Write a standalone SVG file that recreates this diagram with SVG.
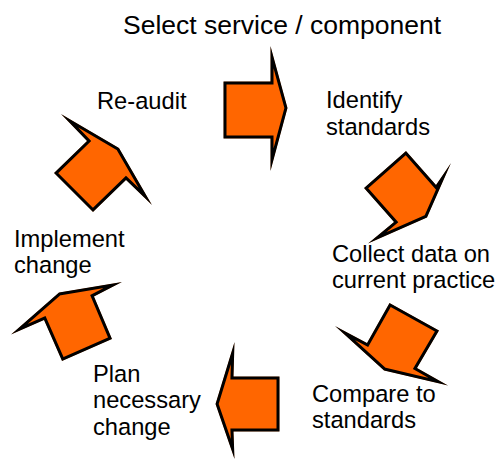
<svg xmlns="http://www.w3.org/2000/svg" xmlns:xlink="http://www.w3.org/1999/xlink" width="499" height="460" viewBox="0 0 499 460">
<style>
.arr{fill:#FF6600;stroke:#000;stroke-width:6;stroke-linejoin:miter;stroke-miterlimit:4}
.t{font-family:"Liberation Sans",Arial,sans-serif;font-size:23.7px;fill:#000}
.title{font-size:26.5px}
</style>
<defs>
<polygon id="a1" points="223.5,81.5 270.5,81.5 270.5,46 287.5,108 270.5,171 270.5,138.5 223.5,138.5"/>
<polygon id="a2" points="406,151 436,185 451,163 427,217.5 368,243.5 394,222 364,188"/>
<polygon id="a3" points="389.5,303 439,330.5 417,368 448,385.5 384,370.5 335,326 367,343"/>
<polygon id="a4" points="279.5,376.5 233.5,376.5 234.5,342 215.5,404 234.5,459 233.5,431.5 279.5,431.5"/>
<polygon id="a5" points="59,292.5 122,282 94,296.5 112,339 62,361 44,320 11,334.5"/>
<polygon id="a6" points="61,114 119,148 152,205 126,180 93,212 54,173 87,141"/>
<clipPath id="c1"><use xlink:href="#a1"/></clipPath>
<clipPath id="c2"><use xlink:href="#a2"/></clipPath>
<clipPath id="c3"><use xlink:href="#a3"/></clipPath>
<clipPath id="c4"><use xlink:href="#a4"/></clipPath>
<clipPath id="c5"><use xlink:href="#a5"/></clipPath>
<clipPath id="c6"><use xlink:href="#a6"/></clipPath>
</defs>
<rect width="499" height="460" fill="#fff"/>
<g id="title"><text class="t title" x="123" y="34">Select service / component</text></g>
<g id="connectors">
<use xlink:href="#a1" class="arr" clip-path="url(#c1)"/>
<use xlink:href="#a2" class="arr" clip-path="url(#c2)"/>
<use xlink:href="#a3" class="arr" clip-path="url(#c3)"/>
<use xlink:href="#a4" class="arr" clip-path="url(#c4)"/>
<use xlink:href="#a5" class="arr" clip-path="url(#c5)"/>
<use xlink:href="#a6" class="arr" clip-path="url(#c6)"/>
</g>
<g id="n-identify"><text class="t" x="326" y="108">Identify</text><text class="t" x="326" y="135">standards</text></g>
<g id="n-collect"><text class="t" x="332" y="262">Collect data on</text><text class="t" x="332" y="288">current practice</text></g>
<g id="n-compare"><text class="t" x="312" y="402">Compare to</text><text class="t" x="312" y="428">standards</text></g>
<g id="n-plan"><text class="t" x="93" y="382">Plan</text><text class="t" x="93" y="408">necessary</text><text class="t" x="93" y="435">change</text></g>
<g id="n-implement"><text class="t" x="14" y="247">Implement</text><text class="t" x="14" y="273">change</text></g>
<g id="n-reaudit"><text class="t" x="97" y="109">Re-audit</text></g>
</svg>
